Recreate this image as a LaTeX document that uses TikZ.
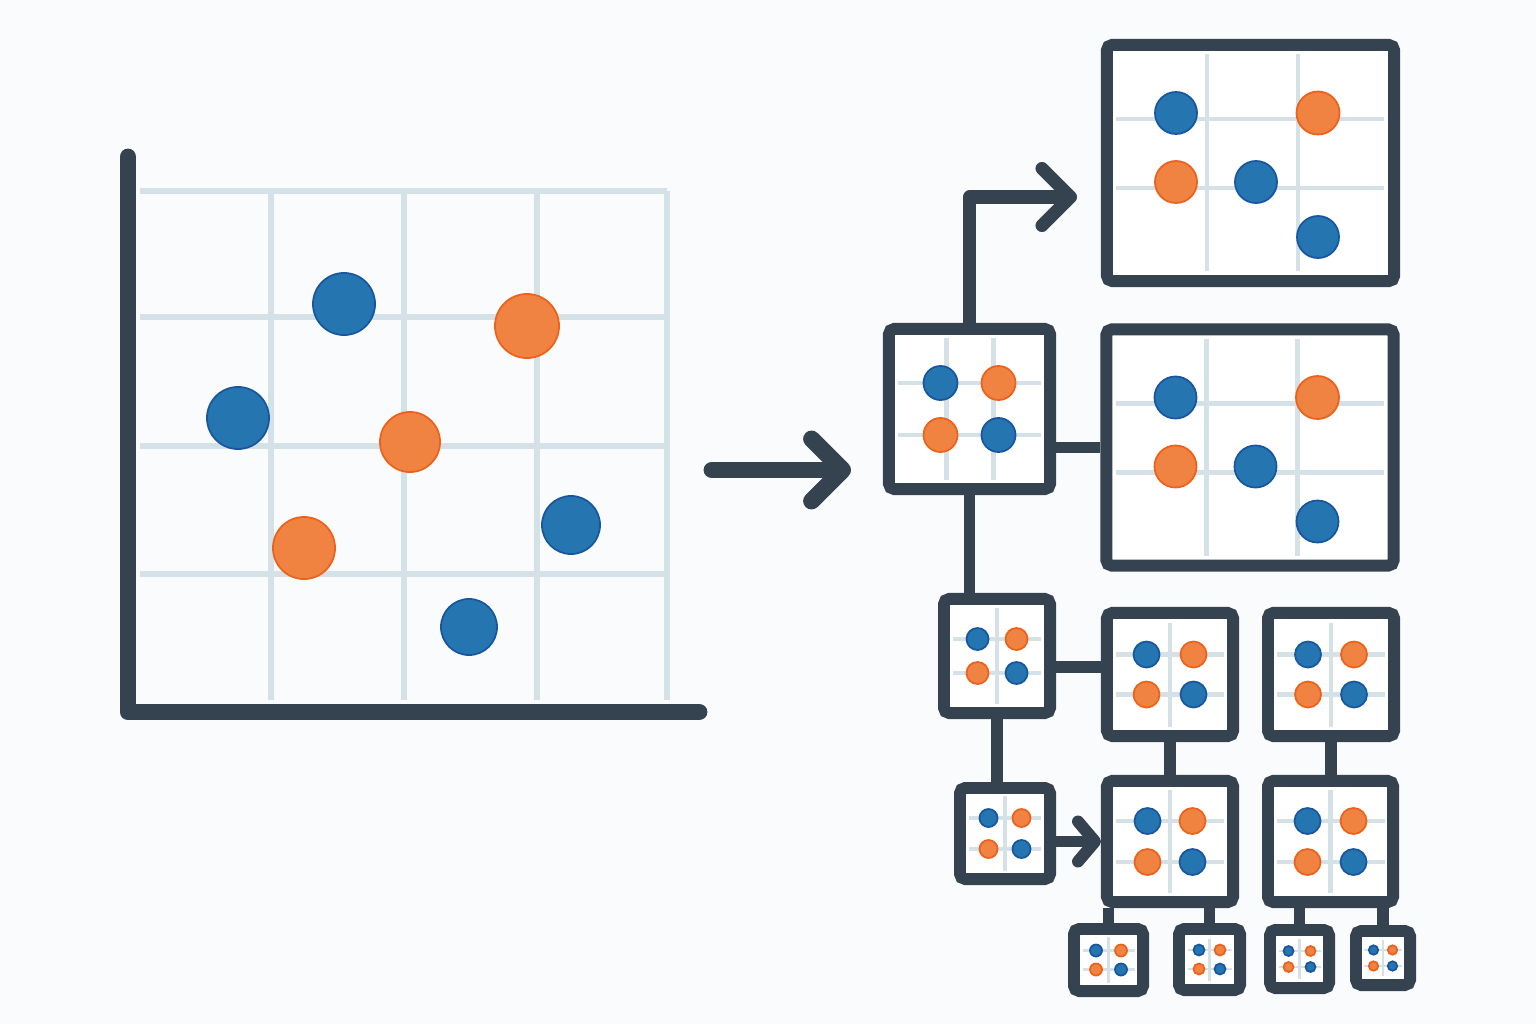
\documentclass[tikz,border=0pt]{standalone}
\usepackage{tikz}
\usetikzlibrary{arrows.meta,positioning,calc}
\definecolor{slate}{RGB}{53,66,79}
\definecolor{dotblue}{RGB}{37,117,176}
\definecolor{dotblueedge}{RGB}{24,86,160}
\definecolor{dotorange}{RGB}{240,131,66}
\definecolor{dotorangeedge}{RGB}{236,98,28}
\definecolor{gridcol}{RGB}{212,225,230}
\definecolor{bgcol}{RGB}{250,251,252}

\tikzset{
  panel/.style={draw=slate, fill=white, line width=3.4pt, rounded corners=1.5pt, inner sep=0pt},
  link/.style={draw=slate, line width=3.4pt},
  flow/.style={draw=slate, line width=3.7pt, line cap=round, line join=round},
  bigflow/.style={draw=slate, line width=4.8pt, line cap=round, line join=round},
  gridline/.style={draw=gridcol},
  bdot/.style={fill=dotblue, draw=dotblueedge, line width=0.5pt},
  odot/.style={fill=dotorange, draw=dotorangeedge, line width=0.5pt}
}

% 2x2 mini scatter: node, dx, dy, half width, half height, radius, grid width, vertical lines
\newcommand{\quadplot}[8]{%
  \begin{scope}[shift={(#1.center)}]
    \foreach \vx in {#8}
      \draw[gridline, line width=#7] (\vx,-#5) -- (\vx,#5);
    \draw[gridline, line width=#7] (-#4,-#3) -- (#4,-#3) (-#4,#3) -- (#4,#3);
    \filldraw[bdot] (-#2,-#3) circle[radius=#6*0.01cm];
    \filldraw[odot] (#2,-#3) circle[radius=#6*0.01cm];
    \filldraw[odot] (-#2,#3) circle[radius=#6*0.01cm];
    \filldraw[bdot] (#2,#3) circle[radius=#6*0.01cm];
  \end{scope}}

% five-point scatter of the wide panels
\newcommand{\scatterpanel}[1]{%
  \begin{scope}[shift={(#1.center)}]
    \draw[gridline, line width=1.4pt] (-43.5,-109) -- (-43.5,108) (47.5,-109) -- (47.5,108)
      (-134.5,-44) -- (133.5,-44) (-134.5,25) -- (133.5,25);
    \filldraw[bdot] (-74.5,-50) circle[radius=0.21cm];
    \filldraw[odot] (67.5,-50) circle[radius=0.215cm];
    \filldraw[odot] (-74.5,19) circle[radius=0.21cm];
    \filldraw[bdot] (5.5,19) circle[radius=0.21cm];
    \filldraw[bdot] (67.5,74) circle[radius=0.21cm];
  \end{scope}}

\begin{document}
\begin{tikzpicture}[x=0.01cm, y=-0.01cm]
    % Canvas
    \fill[bgcol] (0,0) rectangle (1536,1024);
    \useasboundingbox (0,0) rectangle (1536,1024);
    % Scatter grid
    \draw[gridline, line width=1.7pt]
      (140,191) -- (667,191) (140,317) -- (667,317)
      (140,446) -- (667,446) (140,574) -- (667,574)
      (271,191) -- (271,700) (404,191) -- (404,700)
      (537,191) -- (537,700) (667,191) -- (667,700);
    % Axes
    \draw[bigflow] (128,157) -- (128,712) -- (699,712);
    % Data points
    \filldraw[bdot] (344,304) circle[radius=0.31cm];
    \filldraw[odot] (527,326) circle[radius=0.32cm];
    \filldraw[bdot] (238,418) circle[radius=0.31cm];
    \filldraw[odot] (410,442) circle[radius=0.30cm];
    \filldraw[odot] (304,548) circle[radius=0.31cm];
    \filldraw[bdot] (571,525) circle[radius=0.29cm];
    \filldraw[bdot] (469,627) circle[radius=0.28cm];
    % Arrow towards the tree
    \coordinate (chartout) at (712,470);
    \coordinate (chartin) at (851,470);
    \draw[bigflow, -{Straight Barb[round, length=0.31cm, width=0.62cm]}] (chartout) -- (chartin);

    % Panels
    \node[panel, minimum width=1.61cm, minimum height=1.60cm] (rootbox) at (969.5,409) {};
    \node[panel, minimum width=2.87cm, minimum height=2.36cm] (topbox) at (1250.5,163) {};
    \node[panel, minimum width=2.87cm, minimum height=2.36cm] (midbox) at (1250,447.5) {};
    \node[panel, minimum width=1.06cm, minimum height=1.14cm] (nodeone) at (997,656) {};
    \node[panel, minimum width=1.26cm, minimum height=1.23cm] (nodeoneR) at (1170,674.5) {};
    \node[panel, minimum width=1.26cm, minimum height=1.23cm] (nodeoneRR) at (1331,674.5) {};
    \node[panel, minimum width=0.90cm, minimum height=0.91cm] (nodetwo) at (1005,833.5) {};
    \node[panel, minimum width=1.26cm, minimum height=1.21cm] (nodetwoR) at (1170,841.5) {};
    \node[panel, minimum width=1.25cm, minimum height=1.21cm] (nodetwoRR) at (1330.5,841.5) {};
    \node[panel, minimum width=0.69cm, minimum height=0.62cm] (leafone) at (1108.5,960) {};
    \node[panel, minimum width=0.61cm, minimum height=0.61cm] (leaftwo) at (1209.5,959.5) {};
    \node[panel, minimum width=0.59cm, minimum height=0.58cm] (leafthree) at (1299.5,959) {};
    \node[panel, minimum width=0.54cm, minimum height=0.54cm] (leaffour) at (1383,958) {};

    % Panel contents
    \scatterpanel{topbox}
    \scatterpanel{midbox}
    \quadplot{rootbox}{29}{26}{71.5}{71}{17}{1.4pt}{-23,24}
    \quadplot{nodeone}{19.5}{17}{44}{48}{11}{1.1pt}{0}
    \quadplot{nodeoneR}{23.5}{20}{54}{52}{13}{1.3pt}{0}
    \quadplot{nodeoneRR}{23}{20}{54}{52}{13}{1.3pt}{0}
    \quadplot{nodetwo}{16.5}{15.5}{36}{37.5}{9}{1.1pt}{0}
    \quadplot{nodetwoR}{22.5}{20.5}{54}{51.5}{13}{1.3pt}{0}
    \quadplot{nodetwoRR}{23}{20.5}{54}{51.5}{13}{1.3pt}{0}
    \quadplot{leafone}{12.5}{9.5}{26}{23}{6}{0.9pt}{0}
    \quadplot{leaftwo}{10.5}{9.5}{22}{21}{5.5}{0.8pt}{0}
    \quadplot{leafthree}{11}{8}{21}{20}{5}{0.8pt}{0}
    \quadplot{leaffour}{9.5}{8}{19}{18}{4.7}{0.8pt}{0}

    % Connectors
    \coordinate (toptip) at (1077,197);
    \draw[flow, -{Straight Barb[round, length=0.285cm, width=0.57cm]}] (rootbox.north) |- (toptip);
    \draw[link] (rootbox.east |- midbox.west) -- (midbox.west);
    \draw[link] (rootbox.south) -- (rootbox.south |- nodeone.north);
    \draw[link] ([yshift=-0.11cm]nodeone.east) -- ([yshift=-0.11cm]nodeone.east -| nodeoneR.west);
    \draw[link] (nodeone.south) -- (nodeone.south |- nodetwo.north);
    \draw[link, -{Straight Barb[round, length=0.17cm, width=0.40cm]}] (nodetwo.east |- nodetwoR.west) -- (nodetwoR.west);
    \draw[link] (nodeoneR.south) -- (nodetwoR.north);
    \draw[link] (nodeoneRR.south) -- (nodeoneRR.south |- nodetwoRR.north);
    \draw[link] (leafone.north |- nodetwoR.south) -- (leafone.north);
    \draw[link] (leaftwo.north |- nodetwoR.south) -- (leaftwo.north);
    \draw[link] (leafthree.north |- nodetwoRR.south) -- (leafthree.north);
    \draw[link] (leaffour.north |- nodetwoRR.south) -- (leaffour.north);
\end{tikzpicture}
\end{document}
